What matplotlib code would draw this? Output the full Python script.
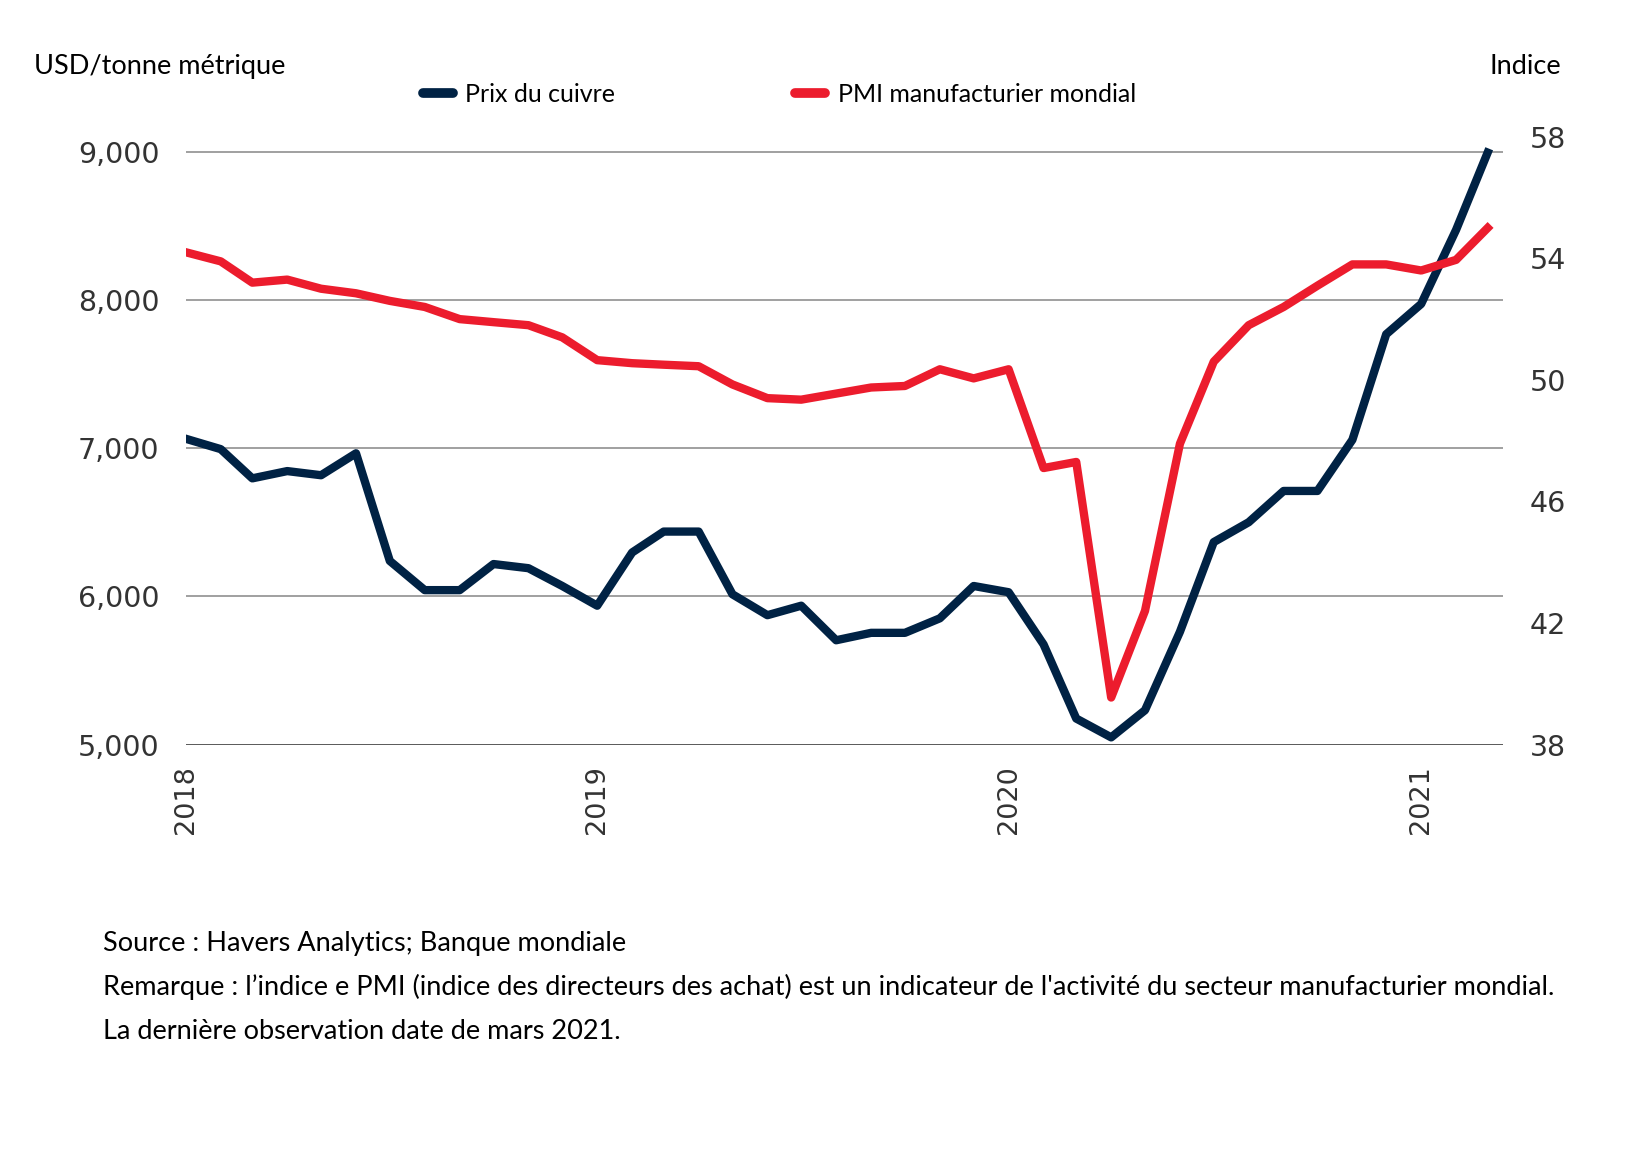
import matplotlib.pyplot as plt
import pandas as pd

# Monthly data, Jan 2018 - Mar 2021
months = pd.date_range("2018-01-01", "2021-03-01", freq="MS")

copper = [7063, 6993, 6796, 6845, 6817, 6965, 6239, 6042, 6042, 6218,
          6190, 6070, 5937, 6296, 6437, 6437, 6014, 5873, 5937, 5704,
          5754, 5754, 5852, 6070, 6028, 5676, 5176, 5049, 5232, 5761,
          6366, 6500, 6711, 6711, 7056, 7768, 7972, 8472, 8993]

pmi = [54.2, 53.9, 53.2, 53.3, 53.0, 52.85, 52.6, 52.4, 52.0, 51.9,
       51.8, 51.4, 50.65, 50.55, 50.5, 50.45, 49.85, 49.4, 49.35, 49.55,
       49.75, 49.8, 50.35, 50.05, 50.35, 47.1, 47.3, 39.55, 42.4, 47.9,
       50.6, 51.8, 52.4, 53.1, 53.8, 53.8, 53.6, 53.95, 55.0]

left_ticks = [5000, 6000, 7000, 8000, 9000]
right_ticks = [38, 42, 46, 50, 54, 58]
years = ["2018", "2019", "2020", "2021"]

navy = "#002244"
red = "#ec1c2d"
text_font = "Lato"

fig = plt.figure(figsize=(16.37, 11.55), dpi=100)
ax = fig.add_axes([0.1135, 0.3553, 0.8049, 0.5263])
ax2 = ax.twinx()

l1, = ax.plot(months, copper, color=navy, lw=6, zorder=3, label="Prix du cuivre")
l2, = ax2.plot(months, pmi, color=red, lw=6, zorder=3, label="PMI manufacturier mondial")

ax.set_ylim(5000, 9100)
ax2.set_ylim(38, 58)
ax.set_xlim(months[0], pd.Timestamp("2021-03-15"))

ax.set_yticks(left_ticks)
ax.set_yticklabels([f"{v:,}" for v in left_ticks])
ax2.set_yticks(right_ticks)

ax.set_xticks([pd.Timestamp(y + "-01-01") for y in years])
ax.set_xticklabels(years, rotation=90)

ax.grid(axis="y", color="#999999", lw=1.3, zorder=0)
ax.set_axisbelow(True)
for a in (ax, ax2):
    for s in a.spines.values():
        s.set_visible(False)
ax.axhline(5000, color="#555555", lw=2, zorder=1)

ax.tick_params(axis="y", length=0, pad=19, labelsize=20.5, labelcolor="#333333")
ax.tick_params(axis="x", length=0, pad=15, labelsize=19.5, labelcolor="#333333")
ax2.tick_params(axis="y", length=0, pad=19, labelsize=20.5, labelcolor="#333333")

fig.text(0.021, 0.942, "USD/tonne métrique", fontsize=19.5, family=text_font,
         ha="left", va="center", color="black")
fig.text(0.9534, 0.942, "Indice", fontsize=19.5, family=text_font,
         ha="right", va="center", color="black")

leg = fig.legend(handles=[l1, l2], loc="center", bbox_to_anchor=(0.476, 0.9186),
                 ncol=2, frameon=False, handlelength=1.2, handletextpad=0.5,
                 columnspacing=7.2, prop={"family": text_font, "size": 18})
for h in leg.legend_handles:
    h.set_solid_capstyle("round")
    h.set_linewidth(7)

notes = ["Source : Havers Analytics; Banque mondiale",
         "Remarque : l\u2019indice e PMI (indice des directeurs des achat) est un indicateur de l'activit\u00e9 du secteur manufacturier mondial.",
         "La derni\u00e8re observation date de mars 2021."]
for i, t in enumerate(notes):
    fig.text(0.0631, 0.1835 - i * 0.0384, t, fontsize=19.5, family=text_font,
             ha="left", va="center", color="black")

fig.savefig("out.png", dpi=100, facecolor="white")
